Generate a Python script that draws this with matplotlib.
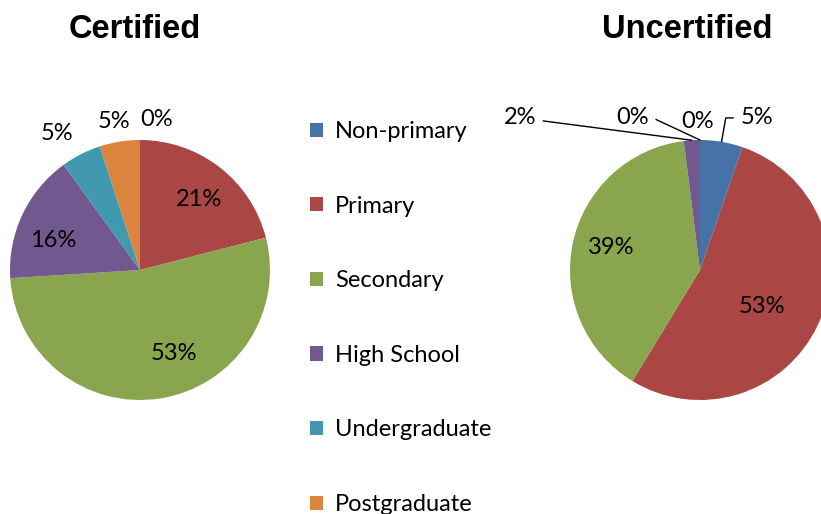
import numpy as np
import matplotlib.pyplot as plt

categories = ['Non-primary', 'Primary', 'Secondary', 'High School', 'Undergraduate', 'Postgraduate']
certified = [0, 21, 53, 16, 5, 5]
uncertified = [5.3, 53.4, 39.3, 2.0, 0, 0]
colors = ['#4572A7', '#AA4643', '#89A54E', '#71588F', '#4198AF', '#DB843D']

plt.rcParams['font.family'] = ['Lato', 'DejaVu Sans']
W, H = 821, 514
fig = plt.figure(figsize=(W / 100, H / 100), dpi=100)
FS = 17


def pie_axes(cx, cy, r):
    ax = fig.add_axes([(cx - r) / W, (H - cy - r) / H, 2 * r / W, 2 * r / H])
    return ax


def mid(w):
    return np.deg2rad((w.theta1 + w.theta2) / 2)


def draw(ax, vals, labels):
    wedges, _ = ax.pie(vals, colors=colors, startangle=90, counterclock=False,
                       radius=1, wedgeprops=dict(linewidth=0))
    ax.set_xlim(-1, 1)
    ax.set_ylim(-1, 1)
    ax.set_aspect('equal')
    for i, (tx, ty, ha, conn) in labels.items():
        a = mid(wedges[i])
        txt = '%.0f%%' % vals[i]
        if conn is None:
            ax.text(tx, ty, txt, ha=ha, va='center', fontsize=FS)
        else:
            ax.annotate(txt, xy=(np.cos(a), np.sin(a)), xytext=(tx, ty),
                        ha=ha, va='center', fontsize=FS, annotation_clip=False,
                        arrowprops=dict(arrowstyle='-', color='black', lw=1,
                                        connectionstyle=conn, shrinkA=3, shrinkB=0))
    return wedges


ax1 = pie_axes(140, 270, 130)
w1 = draw(ax1, certified, {
    0: (0.13, 1.16, 'center', None),
    1: (0.45, 0.54, 'center', None),
    2: (0.26, -0.64, 'center', None),
    3: (-0.67, 0.23, 'center', None),
    4: (-0.64, 1.05, 'center', None),
    5: (-0.2, 1.14, 'center', None),
})

ax2 = pie_axes(700, 270, 130)
w2 = draw(ax2, uncertified, {
    0: (0.31, 1.17, 'left', 'angle,angleA=180,angleB=80,rad=0'),
    1: (0.48, -0.28, 'center', None),
    2: (-0.68, 0.17, 'center', None),
    3: (-1.26, 1.17, 'right', 'arc3,rad=0'),
    4: (-0.39, 1.17, 'right', 'angle,angleA=180,angleB=155,rad=0'),
    5: (-0.02, 1.14, 'center', None),
})

fig.text(135 / W, 1 - 30 / H, 'Certified', ha='center', va='center',
         fontsize=23.5, fontweight='bold', family='Liberation Sans')
fig.text(687 / W, 1 - 30 / H, 'Uncertified', ha='center', va='center',
         fontsize=23.5, fontweight='bold', family='Liberation Sans')

fig.legend(w1, categories, loc='upper left', bbox_to_anchor=(310 / W, 1 - 121 / H),
           frameon=False, fontsize=17, labelspacing=2.27, handlelength=0.55,
           handleheight=0.55, handletextpad=0.5, borderpad=0, borderaxespad=0)

fig.savefig('out.png', dpi=100)
